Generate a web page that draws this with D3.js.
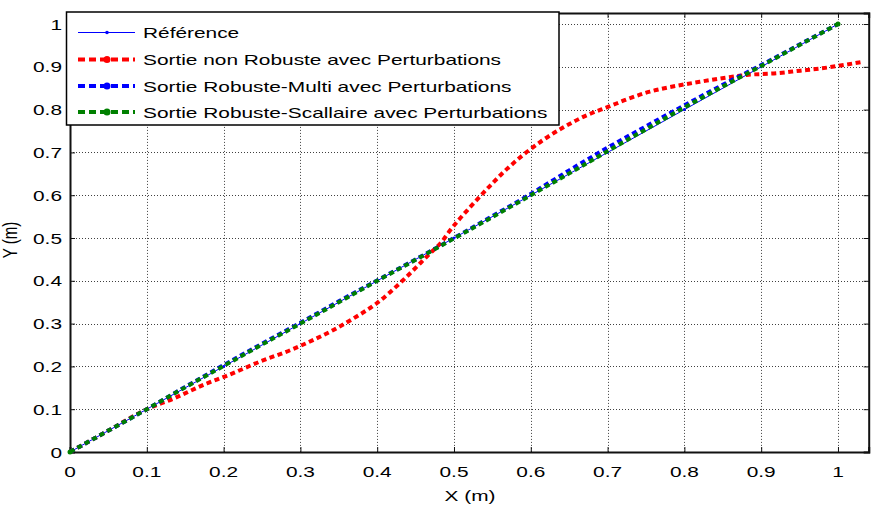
<!DOCTYPE html>
<html><head><meta charset="utf-8">
<script src="https://cdn.jsdelivr.net/npm/d3@7"></script>
<style>body{margin:0;background:#fff}svg{display:block}text{font-family:"Liberation Sans",Arial,sans-serif;font-size:15px;fill:#000}</style>
</head><body><svg id="c" width="872" height="508"></svg>
<script>
const xTicks = [0,0.1,0.2,0.3,0.4,0.5,0.6,0.7,0.8,0.9,1];
const xTickLabels = ["0","0.1","0.2","0.3","0.4","0.5","0.6","0.7","0.8","0.9","1"];
const yTicks = [0,0.1,0.2,0.3,0.4,0.5,0.6,0.7,0.8,0.9,1];
const yTickLabels = ["0","0.1","0.2","0.3","0.4","0.5","0.6","0.7","0.8","0.9","1"];
const seriesNames = ["Référence","Sortie non Robuste avec Perturbations","Sortie Robuste-Multi avec Perturbations","Sortie Robuste-Scallaire avec Perturbations"];
const seriesColors = ["#0000ff","#ff0000","#0000ff","#008000"];

const refX = [0,0.1,0.2,0.3,0.4,0.5,0.6,0.7,0.8,0.9,1];
const refY = [0,0.1,0.2,0.3,0.4,0.5,0.6,0.7,0.8,0.9,1];
const redX = [0,0.05,0.1,0.135,0.178,0.204,0.247,0.291,0.317,0.343,0.369,0.399,0.434,0.456,0.471,0.484,0.495,0.506,0.521,0.547,0.564,0.59,0.616,0.642,0.673,0.703,0.725,0.755,0.794,0.82,0.855,0.881,0.92,0.951,0.977,1.003,1.033];
const redY = [0,0.05,0.1,0.125,0.16,0.178,0.211,0.241,0.262,0.285,0.312,0.347,0.402,0.441,0.468,0.491,0.518,0.542,0.572,0.622,0.653,0.694,0.729,0.758,0.787,0.808,0.824,0.842,0.857,0.865,0.875,0.881,0.885,0.891,0.896,0.903,0.912];
const multiX = [0,0.05,0.1,0.15,0.2,0.25,0.3,0.35,0.4,0.45,0.5,0.55,0.6,0.65,0.7,0.75,0.8,0.85,0.9,0.95,1];
const multiY = [0,0.05,0.1,0.152,0.203,0.253,0.302,0.352,0.401,0.45,0.5,0.551,0.603,0.658,0.711,0.761,0.81,0.858,0.904,0.952,1];
const scalX = [0,0.05,0.1,0.15,0.2,0.25,0.3,0.35,0.4,0.45,0.5,0.55,0.6,0.65,0.7,0.75,0.8,0.85,0.9,0.95,1];
const scalY = [0,0.05,0.1,0.151,0.201,0.251,0.3,0.35,0.4,0.449,0.499,0.549,0.6,0.651,0.703,0.754,0.805,0.854,0.902,0.951,1];

const SX = 1.39; // horizontal stretch of the original image
const svg = d3.select("#c");
const L = 70, R = 868.7, T = 12.9, B = 452;
const x = d3.scaleLinear().domain([0,1.04]).range([L,R]);
const y = d3.scaleLinear().domain([0,1.026]).range([B,T]);

function txt(g, px, py, s, anchor, rot) {
  return g.append("text").attr("transform", `translate(${px},${py}) scale(${SX},1)` + (rot ? ` rotate(${rot})` : ""))
    .attr("text-anchor", anchor).text(s);
}

// grid
const grid = svg.append("g").attr("stroke","#000").attr("stroke-opacity",0.75).attr("stroke-dasharray","1,2").attr("stroke-width",1);
xTicks.forEach(t => grid.append("line").attr("x1",Math.round(x(t))+0.5).attr("x2",Math.round(x(t))+0.5).attr("y1",T).attr("y2",B));
yTicks.forEach(t => grid.append("line").attr("y1",Math.round(y(t))+0.5).attr("y2",Math.round(y(t))+0.5).attr("x1",L).attr("x2",R));

// axes via d3 axis (ticks inside)
const axB = svg.append("g").attr("transform",`translate(0,${B})`).call(d3.axisBottom(x).tickValues(xTicks).tickSize(-5).tickFormat(""));
const axT = svg.append("g").attr("transform",`translate(0,${T})`).call(d3.axisTop(x).tickValues(xTicks).tickSize(-5).tickFormat(""));
const axL = svg.append("g").attr("transform",`translate(${L},0)`).call(d3.axisLeft(y).tickValues(yTicks).tickSize(-5).tickFormat(""));
const axR = svg.append("g").attr("transform",`translate(${R},0)`).call(d3.axisRight(y).tickValues(yTicks).tickSize(-5).tickFormat(""));
[axB,axT,axL,axR].forEach(a => { a.selectAll("path").attr("stroke","#111").attr("stroke-width",2); a.selectAll("line").attr("stroke","#111"); });

// tick labels
xTicks.forEach((t,i) => txt(svg, x(t), 477, xTickLabels[i], "middle"));
yTicks.forEach((t,i) => txt(svg, 62, y(t)+5.5, yTickLabels[i], "end"));
txt(svg, 470, 501, "X (m)", "middle");
txt(svg, 17, 240, "Y (m)", "middle", -90);

// data lines
const line = d3.line().x(d=>x(d[0])).y(d=>y(d[1])).curve(d3.curveMonotoneX);
const dataG = svg.append("g");
const sets = [[refX,refY],[redX,redY],[multiX,multiY],[scalX,scalY]];
sets.forEach((s,i) => {
  const pts = s[0].map((v,j)=>[v,s[1][j]]);
  const p = dataG.append("path").datum(pts).attr("d",line).attr("fill","none").attr("stroke",seriesColors[i]);
  if (i===0) p.attr("stroke-width",1);
  else p.attr("stroke-width",4).attr("stroke-dasharray","5,3.5");
  if (i===0) dataG.selectAll(null).data(pts).join("circle").attr("cx",d=>x(d[0])).attr("cy",d=>y(d[1])).attr("r",1.5).attr("fill",seriesColors[0]);
});
dataG.append("circle").attr("cx",x(1)).attr("cy",y(1)).attr("r",2.5).attr("fill",seriesColors[3]);
dataG.append("circle").attr("cx",x(0)).attr("cy",y(0)).attr("r",2.5).attr("fill",seriesColors[3]);

// legend
const lg = svg.append("g");
lg.append("rect").attr("x",66.5).attr("y",12).attr("width",492.5).attr("height",113).attr("fill","#fff").attr("stroke","#000").attr("stroke-width",1.5);
const rowY = [32.5, 59.5, 86, 112];
seriesNames.forEach((n,i) => {
  const ly = rowY[i];
  const l = lg.append("line").attr("x1",78).attr("x2",135).attr("y1",ly).attr("y2",ly).attr("stroke",seriesColors[i]);
  if (i===0) { l.attr("stroke-width",1); lg.append("circle").attr("cx",107).attr("cy",ly).attr("r",1.8).attr("fill",seriesColors[i]); }
  else { l.attr("stroke-width",4).attr("stroke-dasharray","7,4"); lg.append("circle").attr("cx",107).attr("cy",ly).attr("r",3.5).attr("fill",seriesColors[i]); }
  txt(lg, 143, ly+5.5, n, "start");
});
</script></body></html>
